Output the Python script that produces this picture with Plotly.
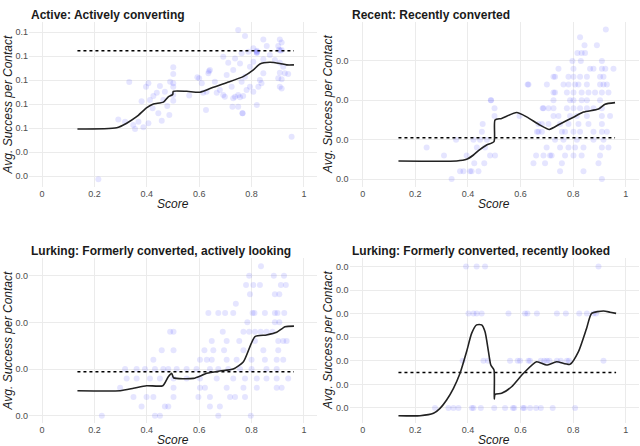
import plotly.graph_objects as go

# ---------------- data ----------------
panel_titles = ["Active: Actively converting", "Recent: Recently converted",
                "Lurking: Formerly converted, actively looking",
                "Lurking: Formerly converted, recently looked"]

score_ticks = [0, 0.2, 0.4, 0.6, 0.8, 1]
score_tick_text = ["0", "0.2", "0.4", "0.6", "0.8", "1"]

# Panel 1 (Active)
active_x = [0.215, 0.333, 0.291, 0.317, 0.355, 0.348, 0.368, 0.387, 0.406, 0.38, 0.397, 0.406, 0.412,
            0.425, 0.438, 0.45, 0.422, 0.444, 0.457, 0.463, 0.478, 0.486, 0.469, 0.489, 0.501, 0.501,
            0.501, 0.501, 0.501, 0.501, 0.562, 0.593, 0.749, 0.775, 0.845, 0.908, 0.915, 0.902, 0.915,
            0.858, 0.807, 0.82, 0.788, 0.762, 0.737, 0.692, 0.711, 0.756, 0.794, 0.807, 0.845, 0.87,
            0.889, 0.908, 0.921, 0.927, 0.908, 0.94, 0.902, 0.915, 0.908, 0.915, 0.641, 0.635, 0.61,
            0.628, 0.626, 0.66, 0.679, 0.692, 0.698, 0.667, 0.705, 0.73, 0.724, 0.737, 0.749, 0.756,
            0.768, 0.73, 0.727, 0.749, 0.766, 0.781, 0.794, 0.807, 0.826, 0.832, 0.838, 0.82, 0.845,
            0.953, 0.775, 0.762, 0.637, 0.615, 0.6, 0.765, 0.82, 0.82, 0.82, 0.905, 0.91]
active_y = [0.0286, 0.0692, 0.0535, 0.0526, 0.0496, 0.0513, 0.0526, 0.0503, 0.052, 0.0611, 0.0672, 0.0686,
            0.0617, 0.0633, 0.0647, 0.0675, 0.0582, 0.0561, 0.053, 0.0617, 0.0592, 0.0554, 0.0651, 0.0693,
            0.0753, 0.0725, 0.0686, 0.0672, 0.0614, 0.0638, 0.0635, 0.0711, 0.0908, 0.0883, 0.0869, 0.0869,
            0.0856, 0.0842, 0.0825, 0.0842, 0.0832, 0.0814, 0.0818, 0.0811, 0.079, 0.0797, 0.0772, 0.0769,
            0.0755, 0.0776, 0.0786, 0.0804, 0.0783, 0.0772, 0.0755, 0.0728, 0.073, 0.0725, 0.0707, 0.0703,
            0.0672, 0.0665, 0.0742, 0.0728, 0.0686, 0.0651, 0.0575, 0.0693, 0.0658, 0.0638, 0.063, 0.0647,
            0.0721, 0.0742, 0.0672, 0.063, 0.0638, 0.0628, 0.0633, 0.0624, 0.0589, 0.0589, 0.0561, 0.0658,
            0.0672, 0.0651, 0.0672, 0.070, 0.0686, 0.0596, 0.0728, 0.0464, 0.0714, 0.0693, 0.0737, 0.0647,
            0.0707, 0.0561, 0.0822, 0.0818, 0.0814, 0.0826, 0.0822]
active_line_x = [0.135, 0.285, 0.323, 0.361, 0.40, 0.425, 0.463, 0.482, 0.499, 0.501, 0.552, 0.603, 0.654,
                 0.705, 0.768, 0.807, 0.832, 0.87, 0.908, 0.934, 0.962]
active_line_y = [0.0496, 0.0501, 0.052, 0.0547, 0.0585, 0.060, 0.0608, 0.063, 0.064, 0.0653, 0.0653, 0.0649,
                 0.067, 0.0689, 0.0714, 0.0742, 0.0767, 0.0774, 0.0769, 0.0763, 0.0763]
active_baseline = 0.0822
active_yticks = [0.03, 0.04, 0.05, 0.06, 0.07, 0.08, 0.09]
active_ytext = ["0.0", "0.0", "0.1", "0.1", "0.1", "0.1", "0.1"]

# Panel 2 (Recent): points sit on discrete levels
recent_levels = [0.010, 0.012, 0.014, 0.016, 0.018, 0.020, 0.022, 0.024, 0.026, 0.028,
                 0.030, 0.032, 0.034, 0.036, 0.038, 0.040, 0.042, 0.044, 0.046, 0.048]
recent_scores = [
    [0.338, 0.909],
    [0.370, 0.383, 0.408, 0.414, 0.440, 0.750, 0.839],
    [0.424, 0.462, 0.649, 0.693, 0.757, 0.896],
    [0.309, 0.395, 0.484, 0.503, 0.659, 0.687, 0.712, 0.718, 0.769, 0.801, 0.832, 0.902],
    [0.243, 0.434, 0.465, 0.699, 0.750, 0.782, 0.807, 0.839, 0.909, 0.934],
    [0.355, 0.421, 0.446, 0.472, 0.731, 0.763, 0.814, 0.877, 0.915],
    [0.453, 0.662, 0.668, 0.681, 0.757, 0.769, 0.801, 0.826, 0.877, 0.909, 0.928],
    [0.456, 0.668, 0.681, 0.706, 0.750, 0.782, 0.820, 0.858, 0.909],
    [0.501, 0.596, 0.725, 0.744, 0.788, 0.814, 0.852, 0.909, 0.940],
    [0.501, 0.684, 0.687, 0.706, 0.725, 0.776, 0.801, 0.826, 0.852, 0.877, 0.909],
    [0.488, 0.487, 0.725, 0.788, 0.801, 0.832, 0.852, 0.902],
    [0.725, 0.731, 0.776, 0.801, 0.832, 0.858, 0.883, 0.909, 0.934],
    [0.627, 0.63, 0.70, 0.763, 0.782, 0.807, 0.820, 0.852, 0.902, 0.915, 0.928],
    [0.725, 0.731, 0.782, 0.801, 0.826, 0.852, 0.902, 0.915],
    [0.744, 0.801, 0.864, 0.877, 0.909, 0.922, 0.953],
    [0.797, 0.829, 0.909],
    [0.816, 0.832, 0.845],
    [0.843, 0.89],
    [0.826],
    [0.924],
]
recent_line_x = [0.136, 0.357, 0.395, 0.421, 0.440, 0.471, 0.499, 0.503, 0.528, 0.585, 0.623, 0.674, 0.709,
                 0.75, 0.801, 0.839, 0.896, 0.921, 0.959]
recent_line_y = [0.01458, 0.01458, 0.0150, 0.0161, 0.0172, 0.01865, 0.0195, 0.025, 0.0254, 0.0269, 0.0258,
                 0.0237, 0.0226, 0.024, 0.0257, 0.027, 0.0278, 0.029, 0.0294]
recent_baseline = 0.0205
recent_yticks = [0.01, 0.02, 0.03, 0.04]
recent_ytext = ["0.0", "0.0", "0.0", "0.0"]

# Panel 3 (Lurking, actively looking)
look_levels = [0.000, 0.002, 0.004, 0.006, 0.008, 0.010, 0.012, 0.014, 0.016,
               0.018, 0.020, 0.022, 0.024, 0.026, 0.028, 0.030, 0.032]
look_scores = [
    [0.228, 0.431, 0.450, 0.673, 0.797],
    [0.380, 0.469, 0.482, 0.641, 0.679],
    [0.349, 0.399, 0.425, 0.502, 0.597, 0.641, 0.718, 0.737, 0.775],
    [0.298, 0.502, 0.603, 0.622, 0.705, 0.769, 0.820, 0.896, 0.915],
    [0.323, 0.361, 0.412, 0.450, 0.502, 0.552, 0.603, 0.667, 0.730, 0.775, 0.820, 0.857, 0.896, 0.940],
    [0.317, 0.361, 0.393, 0.431, 0.463, 0.482, 0.514, 0.552, 0.590, 0.641, 0.673, 0.711, 0.756, 0.800,
     0.857, 0.896],
    [0.425, 0.603, 0.629, 0.648, 0.705, 0.743, 0.800, 0.851, 0.896, 0.921],
    [0.457, 0.502, 0.620, 0.654, 0.695, 0.769, 0.845, 0.902],
    [0.648, 0.705, 0.753, 0.813, 0.902, 0.921, 0.934],
    [0.489, 0.502, 0.690, 0.769, 0.791, 0.813, 0.835, 0.857, 0.880],
    [0.784, 0.889, 0.906],
    [0.635, 0.673, 0.699, 0.730, 0.804, 0.811, 0.851, 0.889, 0.899, 0.925],
    [0.740],
    [0.794, 0.889, 0.906],
    [0.779, 0.807, 0.832, 0.912, 0.931],
    [0.791, 0.885, 0.924],
    [0.836],
]
look_line_x = [0.135, 0.298, 0.349, 0.399, 0.461, 0.482, 0.495, 0.502, 0.578, 0.629, 0.679, 0.730, 0.769,
               0.813, 0.857, 0.896, 0.928, 0.962]
look_line_y = [0.00536, 0.00536, 0.00587, 0.00643, 0.00643, 0.00836, 0.00908, 0.00814, 0.0080, 0.00908,
               0.00958, 0.0100, 0.01157, 0.01693, 0.0173, 0.01787, 0.01907, 0.0192]
look_baseline = 0.00943
look_yticks = [0.0, 0.01, 0.02, 0.03]
look_ytext = ["0.0", "0.0", "0.0", "0.0"]

# Panel 4 (Lurking, recently looked)
looked_levels = [0.0, 0.01, 0.02, 0.03]
looked_scores = [
    [0.275, 0.326, 0.345, 0.364, 0.415, 0.421, 0.449, 0.500, 0.541, 0.571, 0.576, 0.609, 0.614, 0.636,
     0.659, 0.677, 0.722, 0.807],
    [0.380, 0.459, 0.476, 0.560, 0.589, 0.598, 0.630, 0.636, 0.677, 0.690, 0.700, 0.710, 0.738, 0.753,
     0.776, 0.784, 0.915],
    [0.402, 0.421, 0.433, 0.452, 0.554, 0.617, 0.626, 0.662, 0.738, 0.772, 0.823, 0.852, 0.877, 0.887],
    [0.393, 0.433, 0.465, 0.896],
]
looked_line_x = [0.136, 0.218, 0.269, 0.294, 0.319, 0.345, 0.370, 0.395, 0.414, 0.433, 0.452, 0.465, 0.478,
                 0.487, 0.499, 0.500, 0.503, 0.528, 0.566, 0.611, 0.661, 0.699, 0.737, 0.788, 0.820, 0.851,
                 0.870, 0.915, 0.940, 0.963]
looked_line_y = [-0.00163, -0.00163, -0.00113, -0.00007, 0.0017, 0.00417, 0.00735, 0.01195, 0.0158, 0.0176,
                 0.0176, 0.01615, 0.01195, 0.0091, 0.00805, 0.0019, 0.0029, 0.0031, 0.0045, 0.00735, 0.0098,
                 0.0091, 0.0098, 0.00925, 0.01195, 0.0169, 0.02005, 0.02055, 0.0203, 0.02005]
looked_baseline = 0.0075
looked_yticks = [0.0, 0.005, 0.01, 0.015, 0.02, 0.025, 0.03]
looked_ytext = ["0.0"] * 7


def flatten(levels, scores):
    xs, ys = [], []
    for lv, sc in zip(levels, scores):
        for s in sc:
            xs.append(s)
            ys.append(lv)
    return xs, ys


recent_x, recent_y = flatten(recent_levels, recent_scores)
look_x, look_y = flatten(look_levels, look_scores)
looked_x, looked_y = flatten(looked_levels, looked_scores)

panels = [
    (active_x, active_y, active_line_x, active_line_y, active_baseline, active_yticks, active_ytext,
     [0.02542, 0.09417]),
    (recent_x, recent_y, recent_line_x, recent_line_y, recent_baseline, recent_yticks, recent_ytext,
     [0.00797, 0.0499]),
    (look_x, look_y, look_line_x, look_line_y, look_baseline, look_yticks, look_ytext,
     [-0.00156, 0.03379]),
    (looked_x, looked_y, looked_line_x, looked_line_y, looked_baseline, looked_yticks, looked_ytext,
     [-0.00318, 0.03178]),
]

# ---------------- layout geometry (pixels in the 640x446 window) ----------------
W, H = 640, 446
x_doms_px = [(29, 317), (349.5, 639), (29, 317), (349.5, 639)]
y_doms_px = [(22, 187), (22, 187), (258, 423), (258, 423)]

fig = go.Figure()
layout = dict(
    width=W, height=H, margin=dict(l=0, r=0, t=0, b=0, pad=0),
    paper_bgcolor="white", plot_bgcolor="white", showlegend=False,
    font=dict(family="Liberation Sans, Arial, sans-serif", color="#4d4d4d"),
)
annotations = []
font_title = dict(family="Liberation Sans, Arial, sans-serif", size=12, color="#1a1a1a")
font_lab = dict(family="Liberation Sans, Arial, sans-serif", size=12, color="#1a1a1a")

for i, (px_, py_, lx, ly, base, ytk, ytt, yr) in enumerate(panels):
    n = "" if i == 0 else str(i + 1)
    xa, ya = "x" + n, "y" + n
    fig.add_trace(go.Scatter(x=px_, y=py_, mode="markers", xaxis=xa, yaxis=ya,
                             marker=dict(color="rgba(0,0,255,0.1)", size=6, line=dict(width=0)),
                             hoverinfo="skip"))
    fig.add_trace(go.Scatter(x=[lx[0], lx[-1]], y=[base, base], mode="lines", xaxis=xa, yaxis=ya,
                             line=dict(color="#000000", width=1.5, dash="dot")))
    fig.add_trace(go.Scatter(x=lx, y=ly, mode="lines", xaxis=xa, yaxis=ya,
                             line=dict(color="#222222", width=1.6, shape="spline", smoothing=0.6)))
    x0, x1 = x_doms_px[i]
    y0, y1 = y_doms_px[i]
    layout["xaxis" + n] = dict(
        domain=[x0 / W, min(x1 / W, 1.0)], range=[-0.05, 1.05], tickvals=score_ticks,
        ticktext=score_tick_text,
        showgrid=True, gridcolor="#ebebeb", gridwidth=0.8, zeroline=False, showline=False,
        ticks="", tickfont=dict(size=9, color="#4d4d4d"), anchor=ya, fixedrange=True)
    layout["yaxis" + n] = dict(
        domain=[1 - y1 / H, 1 - y0 / H], range=yr, tickvals=ytk, ticktext=ytt,
        showgrid=True, gridcolor="#ebebeb", gridwidth=0.8, zeroline=False, showline=False,
        ticks="", tickfont=dict(size=9, color="#4d4d4d"), anchor=xa, fixedrange=True)
    # panel title
    annotations.append(dict(text="<b>" + panel_titles[i] + "</b>", xref="paper", yref="paper",
                            x=x0 / W, y=1 - (y0 - 7) / H, xanchor="left", yanchor="middle",
                            showarrow=False, font=font_title))
    # x label
    annotations.append(dict(text="<i>Score</i>", xref="paper", yref="paper",
                            x=(x0 + x1) / 2 / W, y=1 - (y1 + 17) / H, xanchor="center", yanchor="middle",
                            showarrow=False, font=font_lab))
    # y label
    annotations.append(dict(text="<i>Avg. Success per Contact</i>", xref="paper", yref="paper",
                            x=(x0 - 22) / W, y=1 - (y0 + y1) / 2 / H, xanchor="center", yanchor="middle",
                            textangle=-90, showarrow=False, font=font_lab))

layout["annotations"] = annotations
fig.update_layout(**layout)
fig.write_html("out.html", config={"displayModeBar": False},
               post_script="document.body.style.margin='0px';document.body.style.overflow='hidden';")
